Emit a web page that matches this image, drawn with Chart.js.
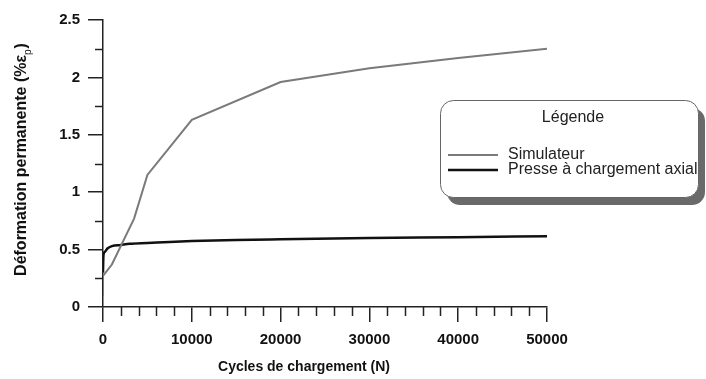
<!DOCTYPE html>
<html>
<head>
<meta charset="utf-8">
<script src="https://cdn.jsdelivr.net/npm/chart.js@4"></script>
<style>
  html, body { margin: 0; padding: 0; background: #fff; }
  #wrap { width: 706px; height: 379px; }
</style>
</head>
<body>
<div id="wrap"><canvas id="courbe" width="706" height="379"></canvas></div>
<script>
// ===== données =====
const simX    = [0, 0, 1000, 3500, 5000, 10000, 20000, 30000, 40000, 50000];
const simY    = [0.1, 0.27, 0.37, 0.77, 1.15, 1.63, 1.96, 2.08, 2.17, 2.25];
const presseX = [0, 50, 200, 500, 1000, 2000, 3000, 5000, 7500, 10000, 15000, 20000, 30000, 40000, 50000];
const presseY = [0.30, 0.45, 0.48, 0.51, 0.53, 0.54, 0.55, 0.557, 0.567, 0.574, 0.584, 0.59, 0.60, 0.608, 0.617];
const xTicks  = [0, 10000, 20000, 30000, 40000, 50000];
const yTicks  = [0, 0.5, 1, 1.5, 2, 2.5];
const seriesNames = ["Simulateur", "Presse à chargement axial"];

const FONT = "'Liberation Sans', Arial, sans-serif";

// petites graduations + titres des axes + légende encadrée
const decor = {
  id: "decor",
  afterDraw(chart) {
    const ctx = chart.ctx;
    const xs = chart.scales.x, ys = chart.scales.y;
    const area = chart.chartArea;
    ctx.save();
    ctx.strokeStyle = "#222";
    ctx.lineWidth = 1.5;
    // graduations secondaires
    for (let v = 0; v <= 50000; v += 2000) {
      if (v % 10000 === 0) continue;
      const px = Math.round(xs.getPixelForValue(v)) + 0.5;
      ctx.beginPath(); ctx.moveTo(px, area.bottom); ctx.lineTo(px, area.bottom + 9); ctx.stroke();
    }
    for (let v = 0.25; v < 2.5; v += 0.5) {
      const py = Math.round(ys.getPixelForValue(v)) + 0.5;
      ctx.beginPath(); ctx.moveTo(area.left, py); ctx.lineTo(area.left - 8, py); ctx.stroke();
    }

    // titre axe x
    ctx.fillStyle = "#111";
    ctx.font = "bold 14px " + FONT;
    ctx.textAlign = "center";
    ctx.textBaseline = "middle";
    ctx.fillText("Cycles de chargement (N)", 304, 367);

    // titre axe y (avec indice p)
    ctx.translate(22, 160);
    ctx.rotate(-Math.PI / 2);
    const main = "Déformation permanente (%ε";
    const sub = "p";
    const end = ")";
    ctx.font = "bold 16px " + FONT;
    const wMain = ctx.measureText(main).width;
    const wEnd = ctx.measureText(end).width;
    ctx.font = "10px " + FONT;
    const wSub = ctx.measureText(sub).width;
    let x0 = -(wMain + wSub + wEnd) / 2;
    ctx.textAlign = "left";
    ctx.font = "bold 16px " + FONT;
    ctx.fillText(main, x0, 0);
    ctx.font = "10px " + FONT;
    ctx.fillText(sub, x0 + wMain, 6);
    ctx.font = "bold 16px " + FONT;
    ctx.fillText(end, x0 + wMain + wSub + 1, 0);
    ctx.restore();

    // légende
    ctx.save();
    const bx = 440, by = 100, bw = 258, bh = 97, r = 13;
    ctx.fillStyle = "#6a6a6a";
    ctx.beginPath(); ctx.roundRect(bx + 7, by + 8, bw, bh, r); ctx.fill();
    ctx.fillStyle = "#fff";
    ctx.strokeStyle = "#666";
    ctx.lineWidth = 1;
    ctx.beginPath(); ctx.roundRect(bx + 0.5, by + 0.5, bw, bh, r); ctx.fill(); ctx.stroke();
    ctx.fillStyle = "#222";
    ctx.font = "16px " + FONT;
    ctx.textAlign = "center";
    ctx.textBaseline = "middle";
    ctx.fillText("Légende", 573, 118);
    ctx.textAlign = "left";
    chart.data.datasets.forEach(function (ds, i) {
      const y = 155 + i * 15;
      ctx.strokeStyle = ds.borderColor;
      ctx.lineWidth = ds.borderWidth;
      ctx.beginPath(); ctx.moveTo(448, y); ctx.lineTo(498, y); ctx.stroke();
      ctx.fillText(ds.label, 508, y);
    });
    ctx.restore();
  }
};

new Chart(document.getElementById("courbe"), {
  type: "line",
  data: {
    datasets: [
      {
        label: seriesNames[0],
        data: simX.map((x, i) => ({ x: x, y: simY[i] })),
        borderColor: "#7a7a7a",
        borderWidth: 2,
        pointRadius: 0,
        tension: 0
      },
      {
        label: seriesNames[1],
        data: presseX.map((x, i) => ({ x: x, y: presseY[i] })),
        borderColor: "#111111",
        borderWidth: 2.5,
        pointRadius: 0,
        cubicInterpolationMode: "monotone"
      }
    ]
  },
  options: {
    responsive: false,
    animation: false,
    layout: { padding: { left: 0, top: 20, right: 159, bottom: 0 } },
    plugins: { legend: { display: false }, tooltip: { enabled: false } },
    scales: {
      x: {
        type: "linear",
        min: 0, max: 50000,
        afterBuildTicks: s => { s.ticks = xTicks.map(v => ({ value: v })); },
        afterFit: s => { s.height = 72; },
        grid: { display: true, drawOnChartArea: false, tickLength: 15, color: "#222", lineWidth: 1.5 },
        border: { display: true, color: "#222", width: 1.5 },
        ticks: {
          color: "#111", padding: 9, maxRotation: 0,
          font: { family: FONT, size: 15, weight: "bold" },
          callback: v => String(v)
        }
      },
      y: {
        type: "linear",
        min: 0, max: 2.5,
        afterBuildTicks: s => { s.ticks = yTicks.map(v => ({ value: v })); },
        afterFit: s => { s.width = 103; },
        grid: { display: true, drawOnChartArea: false, tickLength: 15, color: "#222", lineWidth: 1.5 },
        border: { display: true, color: "#222", width: 1.5 },
        ticks: {
          color: "#111", padding: 8,
          font: { family: FONT, size: 15, weight: "bold" },
          callback: v => String(v)
        }
      }
    }
  },
  plugins: [decor]
});
</script>
</body>
</html>
